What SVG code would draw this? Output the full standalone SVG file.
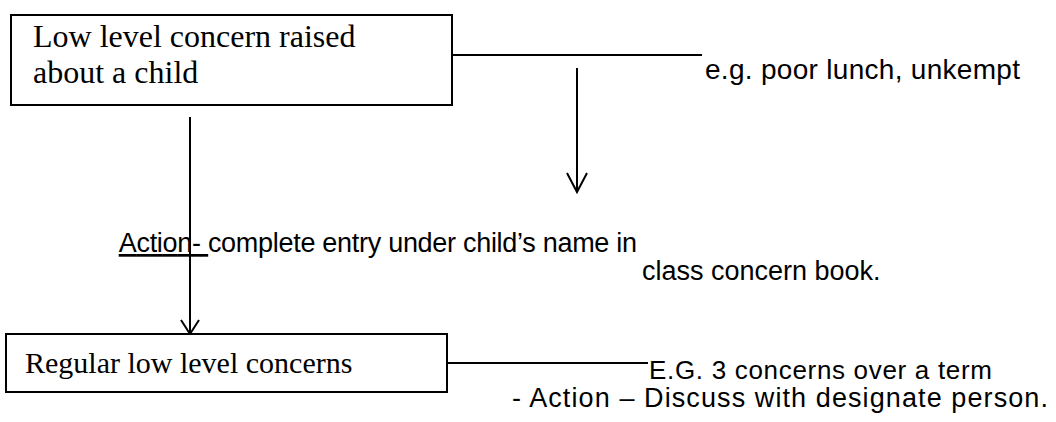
<svg xmlns="http://www.w3.org/2000/svg" width="1056" height="422" viewBox="0 0 1056 422">
<style>
.box{fill:#fff;stroke:#000;stroke-width:2}
.ln{stroke:#000;stroke-width:2;fill:none}
.serif{font-family:"Liberation Serif","Times New Roman",serif;font-size:32px;fill:#000}
.sans{font-family:"Liberation Sans",Arial,sans-serif;font-size:27px;fill:#000}
</style>
<rect width="1056" height="422" fill="#fff"/>
<g id="connectors">
<line class="ln" x1="446" y1="55" x2="702" y2="55"/>
<line class="ln" x1="577" y1="68" x2="577" y2="191"/>
<path class="ln" d="M567,173 L577,192 L587,173"/>
<line class="ln" x1="190" y1="117" x2="190" y2="333"/>
<path class="ln" d="M181,320 L190,334 L199,320"/>
<line class="ln" x1="447" y1="363" x2="648" y2="363"/>
</g>
<g id="node-top">
<rect class="box" x="11" y="15" width="441" height="90"/>
<text class="serif" x="33" y="47">Low level concern raised</text>
<text class="serif" x="33" y="83">about a child</text>
</g>
<g id="note-eg">
<text class="sans" x="705" y="79" style="font-size:28px" textLength="315" lengthAdjust="spacing">e.g. poor lunch, unkempt</text>
</g>
<g id="note-action">
<text class="sans" x="113" y="252" xml:space="preserve" textLength="524" lengthAdjust="spacing"> <tspan text-decoration="underline">Action- </tspan>complete entry under child’s name in</text>
<text class="sans" x="642" y="280">class concern book.</text>
</g>
<g id="node-bottom">
<rect class="box" x="6" y="334" width="441" height="58"/>
<text class="serif" x="25" y="373" style="font-size:30px">Regular low level concerns</text>
</g>
<g id="note-regular">
<text class="sans" x="649" y="379" style="font-size:26px" textLength="343" lengthAdjust="spacing">E.G. 3 concerns over a term</text>
<text class="sans" x="512" y="407" textLength="536" lengthAdjust="spacing">- Action – Discuss with designate person.</text>
</g>
</svg>
